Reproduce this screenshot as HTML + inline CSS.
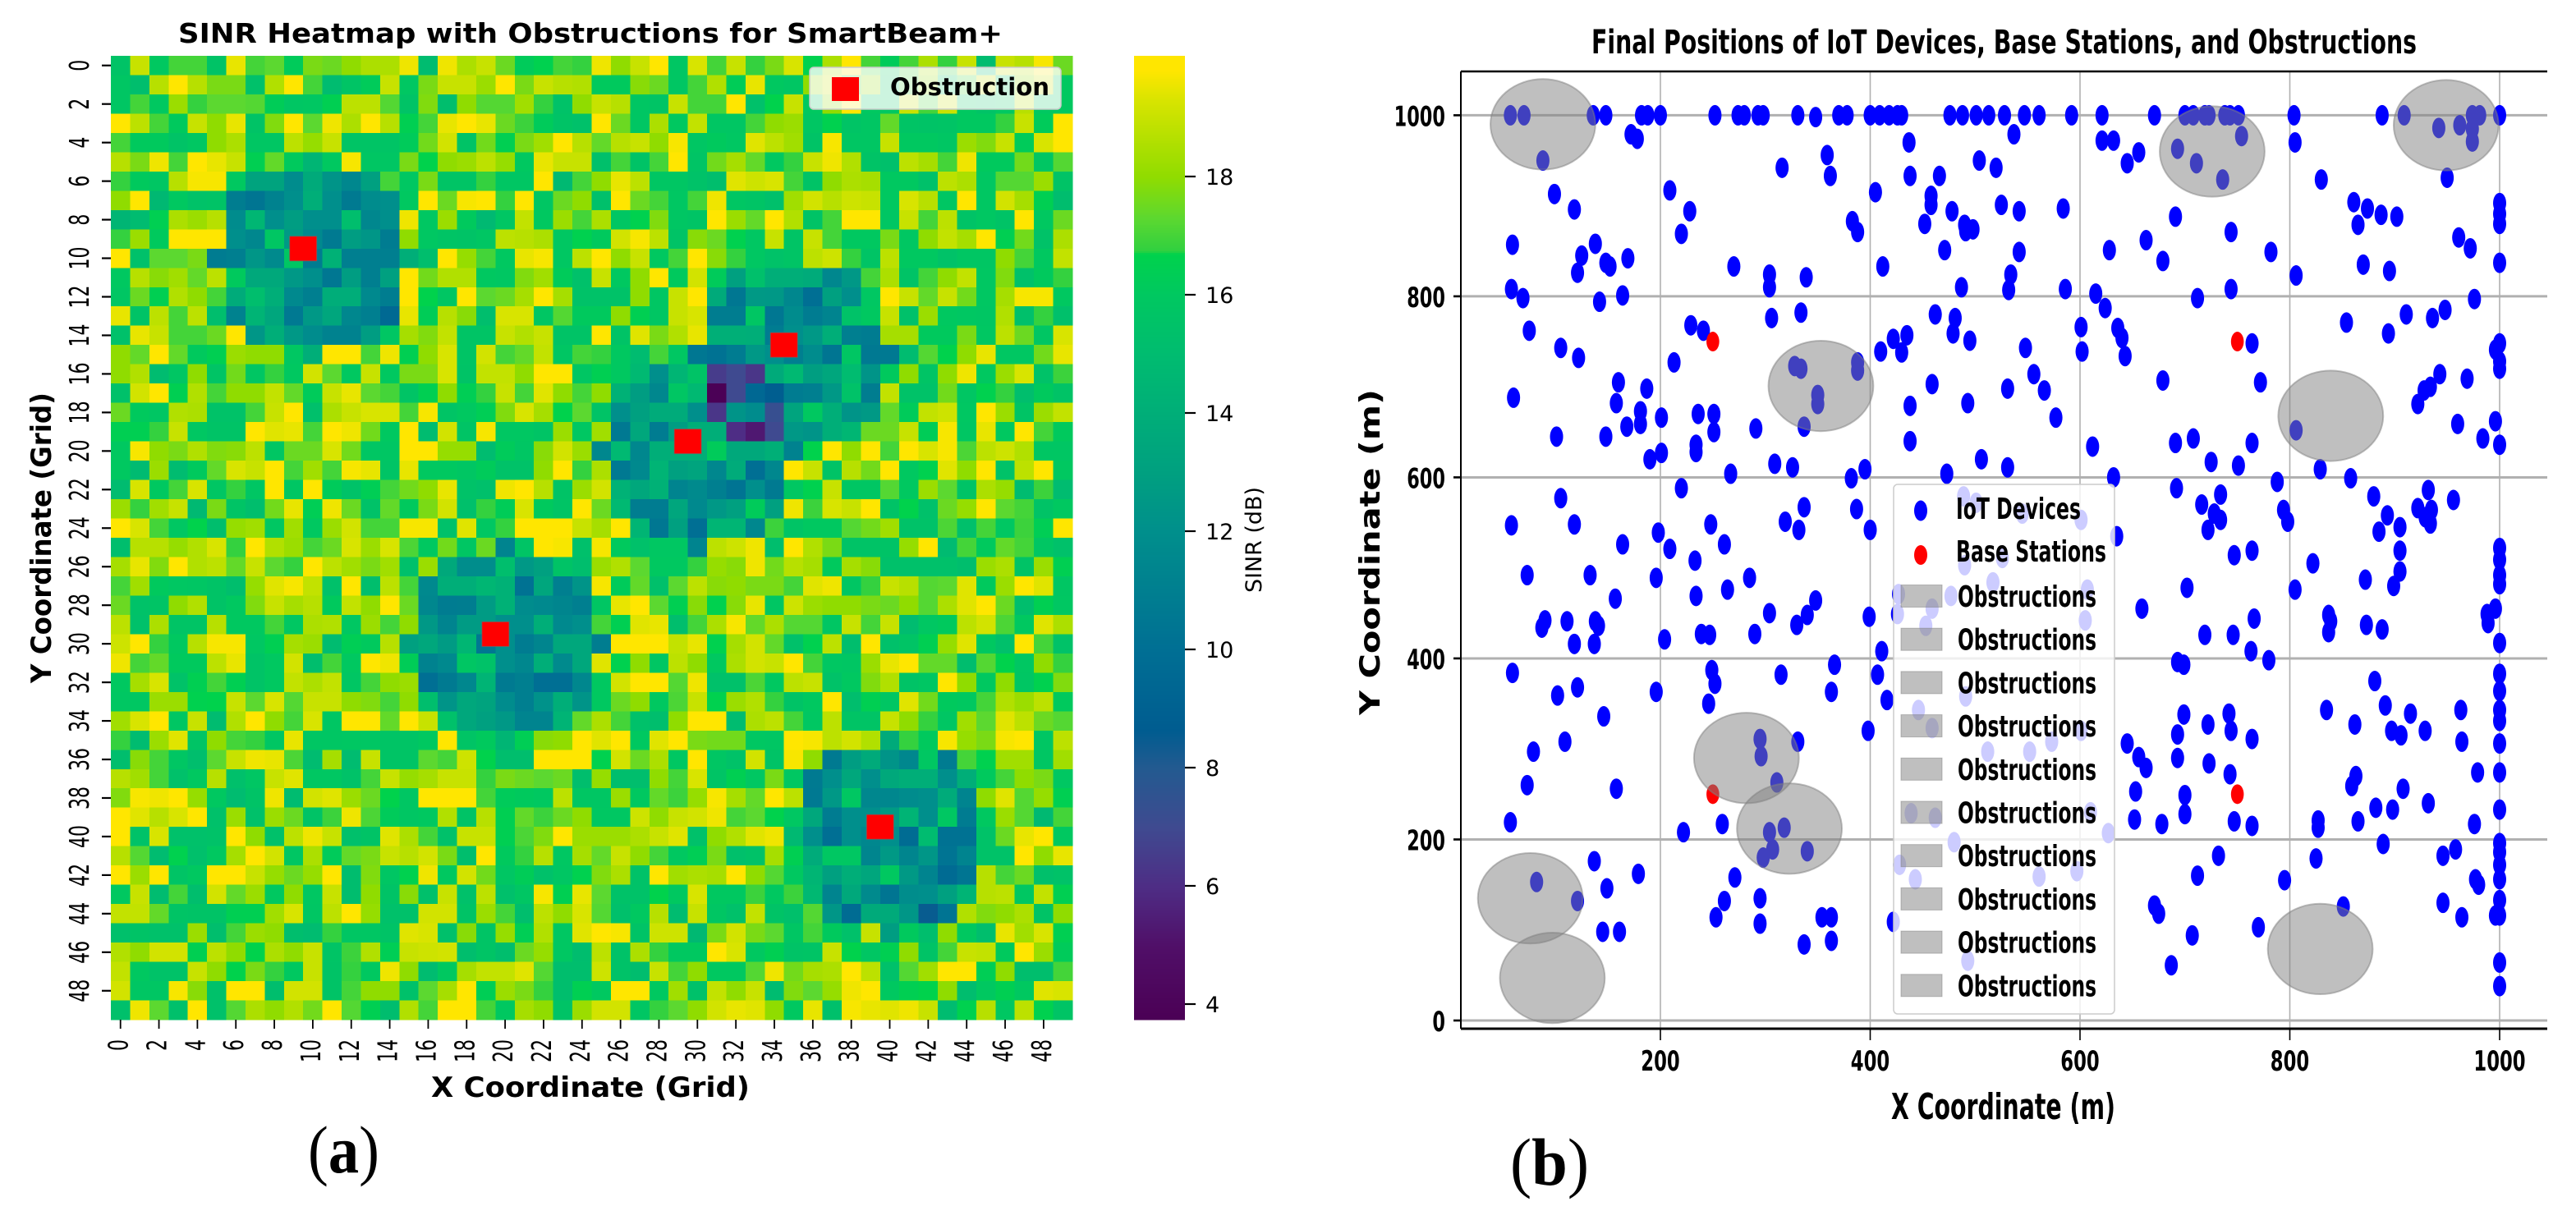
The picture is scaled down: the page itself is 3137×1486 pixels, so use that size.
<!DOCTYPE html>
<html lang="en">
<head>
<meta charset="utf-8">
<title>SINR Heatmap and Final Positions</title>
<style>
html,body{margin:0;padding:0;background:#fff;width:3137px;height:1486px;overflow:hidden}
svg{display:block;font-family:"DejaVu Sans","Liberation Sans",sans-serif}
</style>
</head>
<body>
<svg id="figure" width="3137" height="1486" viewBox="0 0 3137 1486" xmlns="http://www.w3.org/2000/svg">
<rect x="0" y="0" width="3137" height="1486" fill="#fff"/>
<g id="heatPanel"></g>
<g id="scatterPanel"></g>
<text x="375" y="1428" font-family="'Liberation Serif',serif" font-size="82" textLength="87" lengthAdjust="spacingAndGlyphs">(<tspan font-weight="bold">a</tspan>)</text>
<text x="1839" y="1443" font-family="'Liberation Serif',serif" font-size="82" textLength="96" lengthAdjust="spacingAndGlyphs">(<tspan font-weight="bold">b</tspan>)</text>
</svg>
<script>
/* ---------- heatmap data ---------- */
const sinrRows = [
[15.6,19,16,17,17,15.6,19.5,17,17.3,16.2,17.7,17.5,18,18.5,18.5,19.6,15,19.6,18.5,19,17.5,16.2,16.6,17,16.8,19.6,18,19,20,15.8,19.3,17,19,16.8,17.7,19.3,16.6,18.5,20,17,16.2,17,18.5,16.8,19,15,19,18.7,19.7,17.5],
[15.8,15.2,18.7,20,18.7,17.7,17.7,15.4,18.6,20,17,15,15.7,16.2,19,15.9,17.7,19,19,18.2,19.8,17.7,19,18.7,18.6,16.1,16.1,17.9,17.5,15.8,17,18.6,16.3,19.5,16,15.8,18,19,17,18,16,17,18,16,17,19,16,18,19,16],
[15.8,17,16,18.2,16.8,17.3,17.3,17.2,16.3,15.8,15.9,16.5,18.8,18.8,17.2,15.6,17.8,15.2,18,17.2,17.2,18.3,16.8,15.5,18,19,18.7,15.8,15.7,19,17,17,20,15.4,16.7,19,16,18,20,16,16,19,17,19,16,15.6,16,18.7,16,16],
[20,18.8,17,16.1,19,18,19.5,15.6,17.8,20,17.3,19.6,18.5,20,18.7,16.5,17,19.5,20,19.5,17.5,16.9,16.2,15.6,15.4,20,17.5,15.8,18.5,16,18.9,15.8,15.8,17,18,18.2,15.8,16.6,15.7,15.8,17.4,15.7,15.6,15.7,16,16,16.8,19,16.2,20],
[17,16.1,16.1,15.6,15.9,18,18.5,15.8,15.8,18.8,18.1,19,15.7,15.7,15.7,16.2,17.6,19.2,15.6,17.6,16.5,17.7,18.3,20,18.7,17.4,18.7,19,18,19.7,15.8,16.1,15.9,19.4,18.8,18.3,15.6,19.7,15.8,15.8,19,16,16,15.8,18.2,17.8,19,16.2,19.3,20],
[18.7,17.7,19.6,17,20,19.5,19,16.5,17.4,16.1,14.5,16,19.7,15.8,15.8,17.7,16.7,18,18.2,18.8,18.1,16,19.5,19,19,15.3,17,15.6,17,20,15.7,17.6,18.4,17.4,16,16.8,19,19.6,18.6,15.6,15.3,18.8,18.4,17,19.6,16.1,16.1,17.6,15.8,17.2],
[16.8,16.1,15.8,18.7,19.7,19.7,16,13.2,13.2,11.8,13.7,12.3,11.5,13,17,15.9,17.7,15.7,15.7,16.8,15.8,15.8,20,14.8,17,18,19.5,18.8,15.8,15.8,15.5,15.2,19.4,19.1,19.3,17,15.6,18,18.5,18.4,16,16,15.4,18.8,18.5,15.9,17.2,17.2,18.2,15.6],
[18,20,14.7,16,15.5,15.6,10.9,10.4,11.2,12,14,12,10.7,11.8,12,16,19.9,17.5,19.7,20,16.8,19.8,15.8,17.5,18,15.3,19.9,17.5,17,15.9,17,19.6,15.8,15.7,15.3,18.3,19.2,18.7,19.1,19,16,19.3,18.7,15.8,20,15.9,19.2,18.4,16.5,15.1],
[14.5,15,16.5,18.5,18.2,18.7,11.8,14.6,12,12.8,12,12,15.2,11.5,12,19.6,15.9,18.2,16.1,14.8,15.8,18.9,16,18.2,17,18.5,15.8,16.6,17.8,15.8,15.7,19.9,18.2,17.4,20,18.6,15.6,17,20,20,15.8,19,17,18.8,15.6,15.9,15.6,20,16,17.5],
[16.8,18.2,16.1,20,20,20,12,11.5,15.8,12.6,11.6,10.7,12.8,12.4,10.8,18,15.9,15.7,15.6,15.8,18.8,18.7,18.5,15.9,16.6,16.1,19.2,19.7,18.8,15.6,17.9,17.5,16.6,15.9,19,15.7,19,17,16,16,17.7,15.9,18,18.9,18.4,20,16.5,17.6,15.5,18.5],
[20,15.4,17.3,17.3,17.7,10.8,11,12.4,11.7,15.8,10.8,14.2,11,11,11,14,15.2,19.8,18.1,17,16,19.5,19.7,15.9,18.8,20,18,19,16,17,20,17.9,16.8,15.9,15.5,15.7,18.8,19.1,16.8,15.7,18.8,16,16,15.5,15.8,15.8,18,17,16,18.9],
[16,18.7,17.9,18.3,17.4,18.8,16.1,13.6,13.6,12.5,12,10.5,12.8,11,13,20,17.6,18.6,18.6,16,15.9,17.8,18.3,16.2,15.4,19,16,18,20,16.1,19.2,16.2,13,15.3,14,14,13.8,11.5,12.5,17,18.5,15.6,17,18,18.9,15.9,17.8,15.4,16.1,16.8],
[15.8,17.5,16.5,18.6,18,17,13.8,15.2,14,11.6,11,13.9,13.9,11.6,10.9,20,16.7,15.8,20,17.3,17.5,18.4,20,18.4,15.5,15.5,15.5,18,15.8,19,20,13.7,10.5,12.6,12.5,11.5,10,13,12,15.9,20,19,17.4,19,17.6,15.9,18.4,19.7,19.7,16],
[19.5,15.6,18.8,17,18.8,15.2,11.2,14.4,13.4,10.6,12.5,13.4,11.5,11,9.6,19.5,16.3,18.7,17.9,15.2,19.3,19.3,15.8,17.2,16.1,16.1,18,16.5,15.8,19,19.3,10.9,10.9,15.8,10.5,11.8,10.8,11.3,15.5,16,19,15.4,18.2,16,15.9,15.8,18.6,15.3,16.8,15.3],
[15.4,19.5,19,17,17,17.5,20,12.4,14,12.5,11.8,11.2,11.2,12.8,15.8,18.4,17.8,18.9,15.7,15.7,19,18.6,19,15.6,15.6,20,15.6,19.4,17.7,18.6,19.5,14.1,14.1,14,10.8,12,12.5,14,11,10.8,18.4,18.4,16.1,16.1,17.7,15.9,18.8,17.5,15.8,19.3],
[18,17.4,20,17.4,16.1,16.5,18.2,18,18,15.9,14,20,20,17,19.6,16.5,18,19.3,15.7,19.2,17,17.4,18.9,15.8,17,16.8,16,15,17,15.9,10.5,10.2,10.8,12.5,12,11,11.8,10.4,15.8,10.6,10.6,15,17.2,16.7,18,19.5,15.9,15.9,17.6,19.5],
[18,18.6,15,15.8,18,15.7,17.6,15.8,16.8,16,19.2,17.3,16,19,16,17.7,17.7,19.3,15.6,18.9,18.9,18,20,20,15.8,16.5,16,14.8,12,14.5,15.6,6.5,7,6.3,13.7,14.8,12.9,13.4,15,12.3,16.1,18,15.7,18,19.6,16,18.2,19.3,15.5,16.9],
[15.4,19.2,20,16.5,18.6,17,18,18,18.9,17.4,16.2,19,19.5,17.3,17,15.7,16.5,18,16.4,16.8,19,17,19.4,18,17,18,14.2,12.8,11.5,15.8,14.8,3.8,7,9.5,8.8,10.8,11,12.5,15.5,10.9,18.9,15.5,15.5,17.6,15.8,16.6,16.8,15.2,16.1,15.6],
[17.5,16.1,15.8,18.6,18.5,15.5,15.5,17,19,20,15.3,18.5,19,19.3,19.3,17,19.7,15.7,16,16.4,17.8,19.3,18.4,16.7,17.3,15.6,12,13,13.8,13.8,12,6.3,12.3,11.8,7.3,13.3,16,14,12.3,12.6,17.4,16.2,18.9,19.1,15.9,20,18.2,15.7,18.2,18.9],
[16.5,16.5,16.8,19,15.9,15.6,15.6,19.8,19.4,19.5,17,20,19.6,17.6,16,19.9,15,19.2,15.7,19.7,15.9,15.9,15.7,18.2,15.9,18.3,10.6,13.5,10.8,12.8,14,14,6,5.3,7,12.5,12.3,14,14.6,17.5,17.5,19,16.3,19.7,15.8,19.5,16,20,17,16.1],
[16,19.7,18,17.7,18.6,17.8,17.9,18.8,15.8,17.5,17.5,19.3,17.6,15.8,15.8,19.9,19.9,18.1,18.1,15,16.2,15.8,17.9,19.2,18.2,11.5,14.8,11.5,14,14,14,16.2,13.6,13.6,14.1,11.2,16.7,20,18,20,17,20,19.3,19.7,17.1,18.8,19.1,18.6,15.8,15.8],
[16,14.9,18.2,15,16.1,17.4,19.3,19,20,17,18.3,17,19.7,19.5,15.7,19.5,16,16,15.8,16.2,15.5,15.5,18,20,16.8,18.5,10.6,11.6,14.4,13,13.3,11.5,13.8,10,11.5,20,19,15.6,18.7,17.6,20,16,16.6,19.4,18,20,15.5,18.8,20,16],
[15,19.3,16,17,19.3,15.8,16.8,15.8,20,15.8,20,16.2,15.5,16.4,17,17.6,18,19.5,15.5,15.3,19.6,20,18.7,15.6,18.2,19.2,14.3,13.5,14.2,11.3,11.7,11,10.3,12,10.7,15.9,16.6,19,15.8,15.8,17.2,16,18.2,17.3,15.6,18.5,18.1,15,16.9,15],
[18.2,16.8,18.3,19,14.8,17.7,15.7,15.2,17.6,19.5,16.4,19.6,17.5,15.5,17.4,16.1,17.7,19.2,15.3,16.8,16.3,19.3,16.1,15.7,20,17.5,14.8,10.9,10.8,13.4,11.6,12.5,13,16.2,13,19.6,16.9,19.3,19,20,15.6,16.7,15.4,17.5,18.1,20,17.3,17,15.6,16],
[20,19.3,17,15.9,16.7,15.2,18.1,18.3,15.9,18.3,16,18.2,19.2,17,17,19.7,19.7,15.4,19.4,15.9,16.8,20,20,19.8,19,18.4,20,14.5,10.5,13,10,14.5,14.5,11.5,16.9,15.7,16,16,17.2,17.6,18.3,15.5,15.5,17.1,15.3,17,15.9,16.9,16.4,20],
[15.2,18.7,18.7,18.1,18.6,19.3,16.8,19.8,18.6,18.2,17,17.5,19.3,18.2,19.3,17.1,16,17.6,15.8,17.5,11.3,15.7,20,19.7,15.3,19.7,16.1,15.4,15.9,15.9,11.3,18.8,19.1,19.6,15.2,20,18.6,17.7,15.6,15.6,15.6,18.1,19.8,14.9,17,16.1,17.4,17,15.8,15.4],
[18.4,19.5,17.8,20,18.6,18.8,17.4,19,17.3,16.8,20,18.8,18.3,17.7,18.3,15.3,18.2,13.6,11.9,11.9,15.2,12.5,13,15.6,15.2,18.2,18.6,17.3,16,16,16.8,18.1,17.9,19.6,17.6,18.7,18.4,16.1,18.4,17.9,15.4,15.4,15.4,15.4,15.2,18.2,18.5,15.6,18.2,16.5],
[17,18.3,16.1,15.9,15.8,15.6,15.2,18.1,19.4,19.7,18.9,15.4,19.8,15.2,18.8,17,11.6,14,14,14.6,14.2,10.2,13.4,11,12.3,19.7,16.2,17.4,15.3,17.3,18.8,17.9,18,17.7,17.7,17,19.4,19.6,15.8,16.8,19,18.7,17.2,17.3,19.4,16.1,18.2,19.8,19.4,15.8],
[17.5,15.5,15.7,18,18.6,15.6,16,17.8,19,18.4,18.7,16.1,18.9,18,20,17.5,11.5,10.8,10.9,12.7,14.2,11.8,11.6,11.4,11,15.8,19.5,20,17.3,16.5,17.9,16.6,17.9,19.5,15.8,19.1,18.2,18,18,17.7,17.5,18,17.2,18.5,19.4,20,17.5,15.2,16.5,15.9],
[18.8,15.4,18.5,15.7,15.7,18.7,16,16,17,15.9,18.5,18.6,15.9,18.2,17,18,12.5,11.3,12.7,12.7,12,12,14,11.6,12,17,16.5,19.4,19.5,15.2,17,18.5,19.7,17.4,18.5,17.2,17.2,15.8,19,17,19,15,15.9,16.1,18.8,19.2,17.1,16,19.4,18.5],
[19.1,20,16.8,16,18.7,19.7,19.7,15.9,16.5,18.4,18.2,15,16.4,16.1,18.7,13,13.5,12.7,14.6,10.5,12,10.8,11.4,13.5,13.5,10.9,20,20,20,18.9,19.5,16.6,18.4,19.2,17.4,15.4,16.6,18.8,15.2,20,15.4,15.7,16.5,18.1,19.4,16,15.3,20,17,15.5],
[19.6,17,17.4,16.1,16.1,18.8,19.5,15.6,16,19.2,15.2,17,16,19.8,19.6,16.3,11.2,11.6,15.8,15.5,12,11.5,14,11.7,13.5,19.4,16.6,18,15.8,18.8,18,16,18.5,19.2,19,20,17,15.9,15.8,18.2,19.5,19.8,17.4,17.4,15.1,17.2,16.7,15.9,18,16.8],
[16,18.4,19.3,15.5,16.5,17,16.5,15.6,16,18.9,18.5,18.9,15.8,17,18,18.2,10,10.7,11.5,14.4,10.7,11,10,10,11.5,16,19.2,20,19.8,17.2,19.6,15.4,15.4,17.1,16,18.8,19,15.5,16,17.8,18.6,15.6,15.8,20,18,16,18,15.8,16.6,17.8],
[15.9,15.9,18.2,18.2,16.6,16.7,19,17.3,19.3,17.2,19,19,18,17.8,17,18,15.2,12.3,13.5,13.2,11.8,11,12.2,14,12.3,16,17.5,18,16,17.1,19,16.6,18.2,18.6,16.8,15.6,16,19.8,15.2,16.5,15.8,19.4,17.6,16.1,16,17,18.6,18.2,18.8,16.1],
[18.3,19.3,20,15.8,19,15,18.6,20,18,17,19.3,15.8,20,20,17.4,20,19,15.4,13.5,13,12.5,11.3,11.3,14.4,17.4,18.5,17,15.4,15.2,18,20,20,15,18.5,18.8,17,15.9,18.8,15.7,15.7,19,18,16.8,15.8,18.3,17.3,19.4,18.8,17.5,17.2],
[16.8,15,18.2,19.4,15.7,18,17,16.8,15.8,19.5,15.8,15.8,15.9,15.8,15.7,15.7,16,20,15.7,16.1,14.5,16.4,17.9,18,19.8,19.4,20,16,19.4,20,17.7,17.6,17.6,15.9,15.8,20,19.7,18.8,19.2,18.6,13.7,16.8,16.1,19.7,18.1,17.7,19.7,20,15.8,18.8],
[15.2,17.9,17,15.8,15.2,17.3,19,19.6,19.5,17.1,15,18.4,15,19,15.7,15.7,17.3,17,19.1,16.7,15.2,15.2,20,19.8,19.8,16.6,19.2,17.5,18.5,15.9,20,15.8,15.5,19.2,15.6,19.7,18,10.7,12.8,13.7,12.3,11.5,15.9,10.8,17,16.6,18.3,18.3,15.8,18.3],
[18.7,18.3,17,15.4,16,18.7,15.3,15.8,19,19.4,15.9,15.9,15.5,17,19,18.1,18.4,19,19,16.8,17.7,17.5,17.3,17.5,15.2,18.1,15.2,15.2,18,17,19.3,15.7,16.5,15.9,17.7,15.9,10.7,12,13.5,12,13.6,14,14,12,14,16.1,17,18,17.7,15.9],
[17.8,19.7,19.6,20,18.1,16,15,15.6,19.6,15,19.2,19.4,18.2,17.5,16.7,15.8,20,20,20,17,16.2,16.1,16,18.8,15.8,15.8,18.2,16,17.4,16.9,18.1,19.7,18.4,17.4,19.8,18.8,10.6,12.5,15.9,11.5,11.5,11.8,12,13.8,11.3,18,19.4,17.2,18.1,16.5],
[20,19.4,18.7,19.3,20,15.4,18.2,15.4,18.2,17.5,15.6,16.9,19.6,17.1,16.2,15.8,16,18.6,15.6,18.7,16.5,17.4,16.9,17.5,18,15.9,15.9,19.1,18,19,19.2,19.6,17,17.3,16.7,15.9,13.5,10.8,12,12,12.7,14.4,12,15.9,10.8,16,18.2,17.2,14.8,17],
[20,15.5,19.3,15.4,15.4,15.5,20,18,15.4,18.8,19.6,19,15.3,15.6,19.4,18.5,17,15.4,19,19,16.5,17.1,17.8,20,18.2,18.2,18.2,18.5,19,19.4,15.4,18,18.6,19.4,19.6,14.8,12,10,12,11.5,12,9.8,15,10.2,10.2,15.5,17.5,19.5,20,16],
[18.7,17.2,15,16.6,15.3,16,18.4,20,19.2,15.8,18.5,16.2,17.4,17.7,19,18.7,19.2,17.7,15.2,20,16.1,16.8,18.7,15.9,18.4,17.4,19,18,17,16,16.4,17.7,15.3,15.5,18.4,16.5,13.8,15.9,15.9,11.4,12.6,11.4,12.4,10.3,11.3,15.5,15.5,20,18,19.5],
[20,18.2,20,15.7,16,20,20,19,18.1,17.5,18.1,20,15.1,17.8,15.8,16.6,19.6,16,19.2,17.6,15.8,16.3,15.4,15.8,16.6,17.8,18.5,15.5,20,18.3,18.5,18.4,20,18,17.2,16,14.5,13,14,13.4,16,12.6,11.3,9.7,10.4,18.7,17,17.5,15.3,15.5],
[16,19,15,17,15.2,19.2,17.4,18.2,16,18,15.9,19,15.1,18,15.6,17.9,15.3,19,15.4,18.8,15.3,15.8,19.7,16.5,19.5,17.3,15.5,15.5,16.7,16,19.3,16,16,16.9,16,16.9,14.7,11.3,13.6,11.7,10.4,11.9,12,13,14.4,18.7,18.8,15.9,18.9,16.5],
[18.9,18.9,17.4,15.7,15.6,15.6,16.5,16.5,18.3,19.3,15.8,18.8,20,18.1,15.4,15.4,19.2,19.2,15.6,18.2,17,15.2,18.8,18,19.3,17.2,15.3,16,18.7,15,19,15.8,15.4,18.9,15.6,15.3,17.2,12.4,9.8,13.7,13.7,12.4,8.5,10.3,18.6,17.8,18,18.5,15.6,18],
[15.3,15.6,15.4,15.4,18.2,15.2,17,18.2,18,15.2,15,16.8,15.8,15.8,15.6,19.4,19.3,15.3,17.9,15.7,18.1,16.4,18.6,15.9,19.4,20,19.7,15.6,19.1,19.1,14.7,17.7,19.2,17.7,17.3,15.8,17,16.1,15.4,19,12.8,16.1,15.2,18,16,15.2,19.5,18.3,19.3,16.5],
[18.6,18,19.2,19.2,16.5,18.8,18,16.7,18.5,18,19,15.7,16.9,18.6,16.4,19,19.1,19.2,15.2,15.7,15.2,17.5,18.1,15.9,15.1,18.8,15.5,18.5,16.8,16,16,20,19.3,16,16.5,15.6,15.7,19,16.7,15.8,16.5,18,15.6,17,19,18.9,16.1,20,18.2,16.2],
[18.9,16,15.5,15.5,19,18,16.7,17.7,16.8,16,19,15.6,16.8,16,19.6,18,15,16,18.4,18.9,18.9,19.4,17.2,15.2,15.2,19.1,15.5,15.1,19,17,18,16,16,17.2,19.6,17.6,18.4,18.5,20,18.8,15.4,17.2,18.3,20,20,16.4,18,15.2,15.2,17],
[19.2,15.8,15.8,19.7,17.9,15.4,20,20,15.2,19.2,19.2,15.6,17,18,18,15.4,17.3,18.4,20,16.4,18.2,17.7,16.8,15.2,16.5,16,20,20,16,18.3,15.4,18.9,18,19,15,17.8,17.3,18.1,19.6,20,16,16.5,16.7,18,15.1,16,16.5,16,19.4,19.3],
[15.3,19.6,17.3,15.3,20,15.4,17.2,18.5,18,18.6,17.6,20,17.2,16.5,15.1,18.6,17,20,20,17,16,18.4,18,15.6,18.2,19.2,19.2,15.8,16.8,17.3,18,19.2,19.5,19.4,18,16,19.5,15.3,19.7,19.5,19.4,19.6,19,15,16.6,18.7,15.9,18.8,16.6,15.7]
];
const heatTickLabels = [0,2,4,6,8,10,12,14,16,18,20,22,24,26,28,30,32,34,36,38,40,42,44,46,48];
const obstructionGridX = [10,35,30,20,40];
const obstructionGridY = [10,15,20,30,40];
const colorbarTicks = [18,16,14,12,10,8,6,4];
const colorbarMin = 3.74;
const colorbarMax = 20.04;
const cmapValues = [3.74,5,6,7,8,8.64,10,11,12,13,14,15,16,16.7,16.75,17.3,18,18.65,19.3,19.8,20.04];
const cmapColors = ['#4b0055','#500f68','#4e2d85','#3f4a90','#235a90','#005c90','#006f94','#007f90','#008f8c','#00a080','#00ae78','#00bc70','#00c860','#00d24c','#30d040','#5cd830','#90dc00','#b4e000','#d8e400','#ffe600','#ffe600'];

/* ---------- scatter data ---------- */
const iotX = [57,70,136,148,182,188,200,252,274,280,293,298,331,348,370,378,400,409,418,426,430,476,488,501,513,528,547,561,592,621,671,700,708,719,723,738,743,751,804,888,909,974,981,1000,
172,178,437,359,316,362,438,466,88,99,118,209,228,405,458,458,478,452,220,383,388,490,491,59,138,125,148,152,169,471,121,270,304,304,339,412,58,69,142,164,487,334,306,462,481,75,229,241,435,422,479,495,105,410,430,122,213,328,334,388,388,459,160,187,60,350,350,158,181,201,236,251,438,493,168,181,251,291,337,101,148,438,234,234,201,190,309,326,395,382,267,473,220,105,
537,621,632,504,520,656,645,754,693,711,736,805,830,942,962,974,974,950,525,542,584,498,691,744,663,542,628,679,782,861,874,887,902,865,1000,1000,1000,961,972,870,895,1000,806,534,532,586,615,712,744,624,976,948,911,936,854,894,601,636,640,548,602,643,764,1000,996,1000,1000,679,772,556,566,531,577,943,969,934,928,922,960,996,984,1000,806,691,708,764,612,725,751,506,531,632,788,829,858,692,734,880,932,956,
337,387,58,118,248,319,332,400,198,209,164,261,233,73,133,196,285,234,264,157,348,340,304,330,399,90,87,111,138,141,118,137,204,239,247,290,411,59,249,252,315,366,407,121,102,196,363,416,246,146,398,109,79,295,296,331,311,73,158,57,259,222,304,318,307,298,340,137,179,271,149,82,121,261,295,253,295,145,161,354,363,363,337,422,
427,477,426,459,453,446,459,439,462,480,428,443,491,493,489,490,501,545,601,526,517,607,605,512,552,573,601,610,627,561,597,635,
716,728,734,722,794,798,893,885,905,922,929,935,934,905,1000,1000,1000,1000,747,764,822,905,872,899,702,805,659,766,837,839,837,873,888,996,988,989,719,746,1000,763,780,693,699,881,1000,1000,891,915,963,1000,1000,835,862,699,722,742,744,693,764,897,906,929,964,1000,645,656,663,693,723,743,863,859,908,979,1000,653,700,932,882,898,1000,700,652,678,747,764,827,827,865,976,889,1000,1000,958,946,732,825,1000,1000,712,795,977,980,1000,996,1000,946,964,671,675,851,770,707,687,1000,1000];
const iotY = [1000,1000,1000,1000,1000,1000,1000,1000,1000,1000,1000,1000,1000,998,1000,1000,1000,1000,1000,1000,1000,1000,1000,1000,1000,1000,1000,1000,1000,1000,1000,1000,1000,1000,1000,1000,1000,1000,1000,1000,1000,1000,1000,1000,
979,974,970,956,942,933,933,933,950,913,896,917,894,915,911,901,894,880,869,883,871,879,872,857,858,845,837,833,842,851,826,833,824,810,821,833,808,798,794,801,810,782,776,780,776,762,768,762,757,753,759,751,743,739,738,732,727,723,720,727,718,703,705,698,688,691,681,682,673,666,670,670,679,682,656,659,650,654,656,645,645,640,636,628,627,620,615,611,609,599,604,604,588,577,
979,972,972,950,942,959,947,977,963,947,929,970,929,986,989,985,971,931,901,894,897,874,888,871,862,849,851,839,849,904,897,890,888,879,903,891,880,865,853,835,828,837,823,824,807,808,803,798,808,787,797,785,780,776,771,759,766,765,754,743,739,734,748,748,741,728,720,707,705,714,696,698,666,714,709,700,696,681,659,662,643,636,652,638,643,638,634,617,613,620,611,600,595,609,599,588,581,579,586,575,
567,565,547,548,548,551,542,542,539,521,526,526,508,492,492,489,489,469,476,466,464,448,450,437,446,442,434,441,441,436,416,416,421,427,426,427,408,384,387,372,382,393,382,368,359,363,363,354,350,336,320,308,297,311,292,308,263,260,256,219,217,208,208,213,189,180,187,176,162,158,146,153,132,132,135,114,107,98,98,114,114,88,84,109,
471,469,449,455,436,343,323,229,224,197,172,156,358,66,579,503,572,560,553,511,484,476,442,297,297,308,320,230,207,159,165,535,
570,560,553,542,564,551,558,540,545,566,556,564,549,519,522,509,492,482,514,519,505,496,487,480,478,476,455,444,448,441,429,437,432,455,449,439,426,426,417,408,398,396,393,375,383,364,348,339,343,343,331,343,327,338,327,339,320,316,311,320,315,320,308,306,306,291,279,290,284,272,270,259,256,274,274,253,249,240,235,233,233,228,222,217,220,215,221,213,220,217,195,196,186,189,182,182,179,172,156,160,155,156,150,133,116,116,130,114,127,118,126,103,94,61,64,38];
const baseX = [250,750,250,750];
const baseY = [750,750,250,250];
const obstructionX = [88,353,726,949,839,282,323,76,97,829];
const obstructionY = [990,701,960,989,668,290,212,135,47,79];
const obstructionRadius = [50,50,50,50,50,50,50,50,50,50];
const scatterXTicks = [200,400,600,800,1000];
const scatterYTicks = [0,200,400,600,800,1000];
const legendObstructionLabels = ['Obstructions','Obstructions','Obstructions','Obstructions','Obstructions','Obstructions','Obstructions','Obstructions','Obstructions','Obstructions'];

/* ---------- helpers ---------- */
const NS = 'http://www.w3.org/2000/svg';
function mk(parent, tag, attrs, txt) {
  const el = document.createElementNS(NS, tag);
  for (const k in attrs) el.setAttribute(k, attrs[k]);
  if (txt !== undefined) el.textContent = txt;
  parent.appendChild(el);
  return el;
}
function hexRgb(h){return [parseInt(h.slice(1,3),16),parseInt(h.slice(3,5),16),parseInt(h.slice(5,7),16)];}
function colorFor(v){
  if (v <= cmapValues[0]) return cmapColors[0];
  for (let i = 1; i < cmapValues.length; i++) {
    if (v <= cmapValues[i]) {
      const t = (v - cmapValues[i-1]) / (cmapValues[i] - cmapValues[i-1]);
      const a = hexRgb(cmapColors[i-1]), b = hexRgb(cmapColors[i]);
      return 'rgb(' + a.map((c,j) => Math.round(c + (b[j]-c)*t)).join(',') + ')';
    }
  }
  return cmapColors[cmapColors.length-1];
}

/* ---------- panel (a) ---------- */
const heat = document.getElementById('heatPanel');
const hL = 135, hR = 1306, hT = 68, hB = 1242;
const colScale = c => hL + c * (hR - hL) / 50;
const rowScale = r => hT + r * (hB - hT) / 50;

const cellsGroup = mk(heat, 'g', {'shape-rendering':'crispEdges'});


sinrRows.forEach((row, r) => row.forEach((v, c) => {
  const cell = mk(cellsGroup, 'rect', {x: colScale(c), y: rowScale(r), width: colScale(c+1)-colScale(c)+0.4, height: rowScale(r+1)-rowScale(r)+0.4, fill: colorFor(v)});
  
  
}));

heatTickLabels.forEach(t => {
  const py = rowScale(t + 0.5);
  const tickY = mk(heat, 'line', {x1: 124, x2: hL, y1: py, y2: py, stroke: '#000', 'stroke-width': 2.2});
  
  
  const labelY = mk(heat, 'text', {transform: 'translate(108,' + py + ') rotate(-90)', 'text-anchor': 'middle', 'font-size': 33, textLength: String(t).length * 14, lengthAdjust: 'spacingAndGlyphs'}, String(t));
  
  
  const px = colScale(t + 0.5);
  const tickX = mk(heat, 'line', {x1: px, x2: px, y1: hB, y2: 1253, stroke: '#000', 'stroke-width': 1.8});
  
  
  const labelX = mk(heat, 'text', {transform: 'translate(' + (px + 9) + ',1266) rotate(-90)', 'text-anchor': 'end', 'font-size': 33, textLength: String(t).length * 14, lengthAdjust: 'spacingAndGlyphs'}, String(t));
  
  
});

obstructionGridX.forEach((gx, i) => {
  const m = mk(heat, 'rect', {x: colScale(gx) - 16.5, y: rowScale(obstructionGridY[i]) - 15, width: 33, height: 30, fill: '#ff0000', stroke: '#7d6060', 'stroke-width': 1, 'stroke-opacity': 0.7});
  
  
});

const heatTitle = mk(heat, 'text', {x: 217, y: 52, 'font-size': 33, 'font-weight': 'bold', textLength: 1004, lengthAdjust: 'spacingAndGlyphs'}, 'SINR Heatmap with Obstructions for SmartBeam+');


const heatX = mk(heat, 'text', {x: 525, y: 1336, 'font-size': 34, 'font-weight': 'bold', textLength: 388, lengthAdjust: 'spacingAndGlyphs'}, 'X Coordinate (Grid)');


const heatY = mk(heat, 'text', {transform: 'translate(62,832) rotate(-90)', 'font-size': 34, 'font-weight': 'bold', textLength: 354, lengthAdjust: 'spacingAndGlyphs'}, 'Y Coordinate (Grid)');



/* legend */
const hLegBox = mk(heat, 'rect', {x: 986, y: 82, width: 306, height: 51, rx: 5, fill: '#fff', 'fill-opacity': 0.8, stroke: '#ccc', 'stroke-width': 1.5});


const hLegMark = mk(heat, 'rect', {x: 1013, y: 94, width: 33, height: 29, fill: '#ff0000'});


const hLegText = mk(heat, 'text', {x: 1084, y: 116, 'font-size': 29, 'font-weight': 'bold', textLength: 194, lengthAdjust: 'spacingAndGlyphs'}, 'Obstruction');



/* colorbar */
const cbL = 1381, cbR = 1443;
const cbScale = v => 215 + (18 - v) * 72;
const cbGroup = mk(heat, 'g', {'shape-rendering':'crispEdges'});


const cbStep = (colorbarMax - colorbarMin) / 587;
for (let i = 0; i < 587; i++) {
  const v = colorbarMax - i * cbStep;
  const seg = mk(cbGroup, 'rect', {x: cbL, y: hT + i * 2, width: cbR - cbL, height: 2.3, fill: colorFor(v)});
  
  
}
colorbarTicks.forEach(t => {
  const py = cbScale(t);
  const tk = mk(heat, 'line', {x1: cbR, x2: 1456, y1: py, y2: py, stroke: '#000', 'stroke-width': 2.2});
  
  
  const lb = mk(heat, 'text', {x: 1468, y: py + 10, 'font-size': 27}, String(t));
  
  
});
const cbLabel = mk(heat, 'text', {transform: 'translate(1536,722) rotate(-90)', 'font-size': 27, textLength: 129, lengthAdjust: 'spacingAndGlyphs'}, 'SINR (dB)');



/* ---------- panel (b) ---------- */
const sc = document.getElementById('scatterPanel');
const axL = 1779, axT = 87, axB = 1253, axR = 3102;
const sx = x => 2022 + (x - 200) * 1.2775;
const sy = y => 1243 - y * 1.1026;

scatterXTicks.forEach(t => {
  const g = mk(sc, 'line', {x1: sx(t), x2: sx(t), y1: axT, y2: axB, stroke: '#b0b0b0', 'stroke-width': 1.6});
  
  
});
scatterYTicks.forEach(t => {
  const g = mk(sc, 'line', {x1: axL, x2: axR, y1: sy(t), y2: sy(t), stroke: '#b0b0b0', 'stroke-width': 3});
  
  
});

iotX.forEach((x, i) => {
  const p = mk(sc, 'ellipse', {cx: sx(x), cy: sy(iotY[i]), rx: 8, ry: 12.5, fill: '#0000ff'});
  
  
});
baseX.forEach((x, i) => {
  const p = mk(sc, 'ellipse', {cx: sx(x), cy: sy(baseY[i]), rx: 7.8, ry: 12, fill: '#ff0000'});
  
  
});
obstructionX.forEach((x, i) => {
  const p = mk(sc, 'ellipse', {cx: sx(x), cy: sy(obstructionY[i]), rx: obstructionRadius[i] * 1.2775, ry: obstructionRadius[i] * 1.1026, fill: '#808080', 'fill-opacity': 0.5, stroke: '#808080', 'stroke-opacity': 0.5, 'stroke-width': 2});
  
  
});

const spineTop = mk(sc, 'line', {x1: axL, x2: axR, y1: axT, y2: axT, stroke: '#000', 'stroke-width': 2.5});


const spineBottom = mk(sc, 'line', {x1: axL, x2: axR, y1: axB, y2: axB, stroke: '#000', 'stroke-width': 3});


const spineLeft = mk(sc, 'line', {x1: axL, x2: axL, y1: axT, y2: axB, stroke: '#000', 'stroke-width': 2});



scatterXTicks.forEach(t => {
  const tk = mk(sc, 'line', {x1: sx(t), x2: sx(t), y1: axB, y2: 1267, stroke: '#000', 'stroke-width': 1.6});
  
  
  const lb = mk(sc, 'text', {x: sx(t), y: 1304, 'text-anchor': 'middle', 'font-size': 34, 'font-weight': 'bold', textLength: String(t).length * 15.8, lengthAdjust: 'spacingAndGlyphs'}, String(t));
  
  
});
scatterYTicks.forEach(t => {
  const tk = mk(sc, 'line', {x1: 1770, x2: axL, y1: sy(t), y2: sy(t), stroke: '#000', 'stroke-width': 2.6});
  
  
  const lb = mk(sc, 'text', {x: 1760, y: sy(t) + 13, 'text-anchor': 'end', 'font-size': 34, 'font-weight': 'bold', textLength: String(t).length * 15.6, lengthAdjust: 'spacingAndGlyphs'}, String(t));
  
  
});

const scTitle = mk(sc, 'text', {x: 1938, y: 65, 'font-size': 40, 'font-weight': 'bold', textLength: 1005, lengthAdjust: 'spacingAndGlyphs'}, 'Final Positions of IoT Devices, Base Stations, and Obstructions');


const scX = mk(sc, 'text', {x: 2303, y: 1363, 'font-size': 44, 'font-weight': 'bold', textLength: 273, lengthAdjust: 'spacingAndGlyphs'}, 'X Coordinate (m)');


const scY = mk(sc, 'text', {transform: 'translate(1680,871) rotate(-90)', 'font-size': 34, 'font-weight': 'bold', textLength: 397, lengthAdjust: 'spacingAndGlyphs'}, 'Y Coordinate (m)');



/* scatter legend */
const sLeg = mk(sc, 'rect', {x: 2306, y: 590, width: 269, height: 645, rx: 5, fill: '#fff', 'fill-opacity': 0.8, stroke: '#ccc', 'stroke-width': 1.5});


const legIot = mk(sc, 'ellipse', {cx: 2339, cy: 622, rx: 8, ry: 12.5, fill: '#0000ff'});


const legIotT = mk(sc, 'text', {x: 2382, y: 632, 'font-size': 36, 'font-weight': 'bold', textLength: 152, lengthAdjust: 'spacingAndGlyphs'}, 'IoT Devices');


const legBase = mk(sc, 'ellipse', {cx: 2339, cy: 676, rx: 8, ry: 12, fill: '#ff0000'});


const legBaseT = mk(sc, 'text', {x: 2382, y: 684, 'font-size': 36, 'font-weight': 'bold', textLength: 183, lengthAdjust: 'spacingAndGlyphs'}, 'Base Stations');


legendObstructionLabels.forEach((name, i) => {
  const cy = 726 + i * 52.7;
  const patch = mk(sc, 'rect', {x: 2315, y: cy - 13.5, width: 50, height: 27, fill: '#808080', 'fill-opacity': 0.5, stroke: '#808080', 'stroke-opacity': 0.5});
  
  
  const txt = mk(sc, 'text', {x: 2384, y: cy + 13, 'font-size': 36, 'font-weight': 'bold', textLength: 169, lengthAdjust: 'spacingAndGlyphs'}, name);
  
  
});
</script>
</body>
</html>
